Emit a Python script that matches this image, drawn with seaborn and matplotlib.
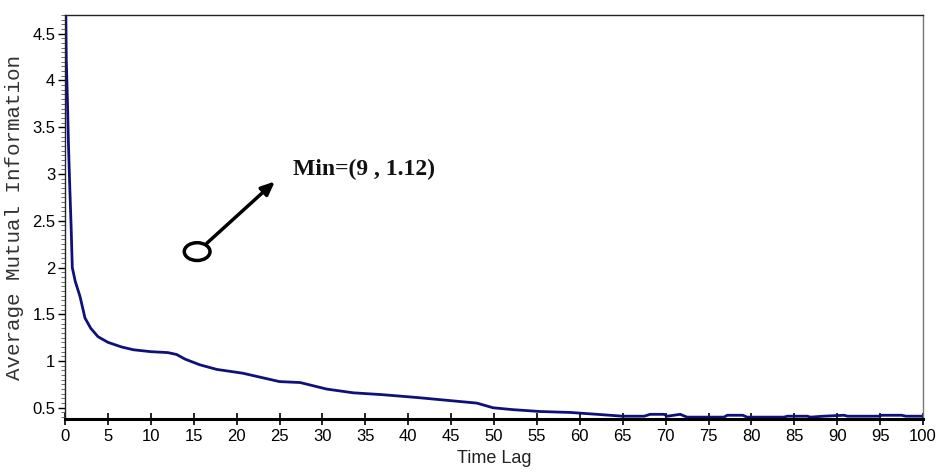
import matplotlib
matplotlib.use("Agg")
import matplotlib.pyplot as plt
from matplotlib.patches import Ellipse
from matplotlib.ticker import MultipleLocator
import seaborn as sns
import pandas as pd

# ---- data ----
lag = [0.10, 0.15, 0.28, 0.40, 0.55, 0.72, 0.85, 1.2, 1.75, 2.33, 3.0, 3.85, 5.0, 6.6,
       8.0, 9.0, 10.0, 12.0, 13.0, 14.0, 15.7, 17.7, 20.7, 25.0, 27.4, 30.5, 33.6, 37.0,
       41.0, 44.5, 48.0, 49.9, 52.2, 55.4, 58.9, 62.0, 65.0, 67.5, 68.2, 69.8, 70.2, 71.7,
       72.5, 76.8, 77.2, 79.0, 79.5, 83.8, 84.2, 86.5, 86.9, 88.4, 90.8, 91.2, 94.8, 95.2,
       97.5, 98.0, 100.0]
ami = [4.70, 4.22, 3.80, 3.33, 2.88, 2.42, 2.00, 1.85, 1.69, 1.46, 1.35, 1.26, 1.20, 1.15,
       1.12, 1.11, 1.10, 1.09, 1.07, 1.02, 0.96, 0.91, 0.87, 0.78, 0.77, 0.70, 0.66, 0.64,
       0.61, 0.58, 0.55, 0.50, 0.48, 0.46, 0.45, 0.43, 0.41, 0.41, 0.43, 0.43, 0.41, 0.43,
       0.40, 0.40, 0.42, 0.42, 0.40, 0.40, 0.41, 0.41, 0.40, 0.41, 0.42, 0.41, 0.41, 0.42,
       0.42, 0.41, 0.41]
x_ticks = list(range(0, 101, 5))
y_ticks = [0.5, 1, 1.5, 2, 2.5, 3, 3.5, 4, 4.5]
y_tick_labels = ["0.5", "1", "1.5", "2", "2.5", "3", "3.5", "4", "4.5"]
annotation_text = "Min=(9 , 1.12)"
circle_center = (15.4, 2.17)
arrow_start = (16.3, 2.24)
arrow_end = (24.7, 2.94)
text_pos = (26.6, 3.05)

df = pd.DataFrame({"lag": lag, "ami": ami})

sns.set_style("white")
tick_font = "Liberation Sans"

fig = plt.figure(figsize=(9.37, 4.75), dpi=100)
ax = fig.add_axes([65/937, 1 - 419/475, (923-65)/937, (419-15)/475])

sns.lineplot(data=df, x="lag", y="ami", sort=False, estimator=None,
             color="#10107a", linewidth=2.0, ax=ax)

ax.set_xlim(0, 100)
ax.set_ylim(0.38, 4.7)
ax.set_xticks(x_ticks)
ax.set_xticklabels([str(t) for t in x_ticks], fontfamily=tick_font, fontsize=12)
ax.set_yticks(y_ticks)
ax.set_yticklabels(y_tick_labels, fontfamily=tick_font, fontsize=12)
ax.yaxis.set_minor_locator(MultipleLocator(0.05))
ax.tick_params(axis="x", which="major", direction="inout", length=9, width=1.2, pad=3, colors="black")
ax.tick_params(axis="y", which="major", direction="out", length=5, width=1.0, pad=2, colors="black")
ax.tick_params(axis="y", which="minor", direction="out", length=3, width=0.6, color="#555555")
ax.tick_params(axis="y", which="both", left=True)
ax.tick_params(axis="x", which="both", bottom=True)

for side in ["left", "top"]:
    ax.spines[side].set_color("#222222")
    ax.spines[side].set_linewidth(1.0)
ax.spines["right"].set_color("#777777")
ax.spines["right"].set_linewidth(1.0)
ax.spines["bottom"].set_color("black")
ax.spines["bottom"].set_linewidth(2.2)

ax.set_xlabel("Time Lag", fontfamily=tick_font, fontsize=13, labelpad=4, color="#222222")
ax.set_ylabel("Average Mutual Information", fontfamily="Liberation Mono", fontsize=15,
              labelpad=6, color="#333333")

ax.add_patch(Ellipse(circle_center, width=3.0, height=0.19, fill=False, edgecolor="black", linewidth=2.5))
ax.annotate("", xy=arrow_end, xytext=arrow_start,
            arrowprops=dict(arrowstyle="-|>,head_length=0.8,head_width=0.35", color="black", lw=2.5))
ax.text(text_pos[0], text_pos[1], annotation_text, fontfamily="Liberation Serif", fontweight="bold",
        fontsize=17, ha="left", va="center", color="#111111")

fig.savefig("out.png", dpi=100)
